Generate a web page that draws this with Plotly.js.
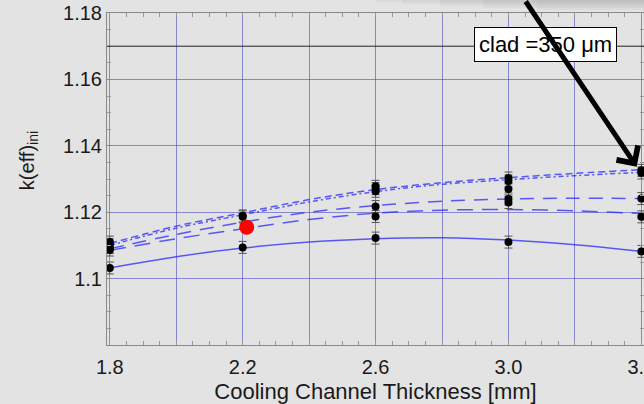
<!DOCTYPE html>
<html>
<head>
<meta charset="utf-8">
<script src="https://cdn.plot.ly/plotly-3.0.1.min.js"></script>
<style>
html,body{margin:0;padding:0;overflow:hidden;background:#e3e3e3;}
#chart{width:644px;height:404px;}
</style>
</head>
<body>
<div id="chart"></div>
<script>
// Measured points (cooling channel thickness [mm], k(eff) ini)
const pointX = [1.8, 1.8, 1.8, 1.8, 1.8,
                2.2, 2.2, 2.2,
                2.6, 2.6, 2.6, 2.6, 2.6, 2.6,
                3.0, 3.0, 3.0, 3.0, 3.0, 3.0,
                3.4, 3.4, 3.4, 3.4, 3.4];
const pointY = [1.1110, 1.1102, 1.1094, 1.1086, 1.1032,
                1.1189, 1.1186, 1.1094,
                1.1278, 1.1271, 1.1263, 1.1217, 1.1187, 1.1122,
                1.1303, 1.1294, 1.1270, 1.1240, 1.1229, 1.1110,
                1.1326, 1.1318, 1.1241, 1.1186, 1.1082];
const pointErr = 0.0018;

// Highlighted point
const redX = [2.212];
const redY = [1.1155];

// Fitted curves
const curveX = [1.8, 2.0, 2.2, 2.4, 2.6, 2.8, 3.0, 3.2, 3.4];
const curveSolid = [1.1032, 1.1066, 1.1092, 1.1110, 1.1120, 1.1123, 1.1116, 1.1102, 1.1082];
const curveLongB = [1.1085, 1.1120, 1.1150, 1.1178, 1.1197, 1.1206, 1.1208, 1.1204, 1.1196];
const curveLongA = [1.1090, 1.1133, 1.1170, 1.1200, 1.1220, 1.1233, 1.1240, 1.1242, 1.1241];
const curveShort1 = [1.1106, 1.1158, 1.1198, 1.1238, 1.1268, 1.1289, 1.1304, 1.1317, 1.1328];
const curveShort2 = [1.1100, 1.1152, 1.1192, 1.1231, 1.1262, 1.1284, 1.1298, 1.1310, 1.1320];

// Axis ticks
const xLabelStep = 0.4;
const xGridStep = 0.2;
const xSmallTick = 0.05;
const yTickVals = [1.1, 1.12, 1.14, 1.16, 1.18];
const yTickText = ['1.1', '1.12', '1.14', '1.16', '1.18'];

const xRange = [1.7915, 3.408];
const yRange = [1.08, 1.18];

const blue = 'rgba(40,40,255,0.75)';
const grid = 'rgba(60,60,190,0.55)';
function curve(y, dash, w) {
  return {x: curveX, y: y, mode: 'lines', type: 'scatter', hoverinfo: 'skip',
    line: {color: blue, width: w, dash: dash, shape: 'spline', smoothing: 1}};
}

const traces = [
  curve(curveSolid, 'solid', 1.5),
  curve(curveLongB, '16px,9px', 1.5),
  curve(curveLongA, '14px,9px', 1.5),
  curve(curveShort1, '7px,4px', 1.5),
  curve(curveShort2, '5px,3px,2px,3px', 1.5),
  {x: pointX, y: pointY, mode: 'markers', type: 'scatter',
   marker: {color: '#000', size: 8},
   error_y: {type: 'constant', value: pointErr, color: '#555', thickness: 1, width: 4}},
  {x: redX, y: redY, mode: 'markers', type: 'scatter', xaxis: 'x2',
   marker: {color: '#ff0000', size: 15}}
];

const shade = [];
const shadeSteps = [[0.50, 2], [0.55, 4], [0.62, 6], [0.70, 8], [0.80, 10]];
shadeSteps.forEach(function (s) {
  shade.push({type: 'rect', xref: 'paper', yref: 'paper', layer: 'below',
    x0: s[0], x1: 1.05, y0: 1.0392 - s[1] / 332, y1: 1.05,
    fillcolor: 'rgba(120,120,120,0.07)', line: {width: 0}});
});

const layout = {
  width: 644, height: 404,
  margin: {l: 107, r: 0, t: 13, b: 59},
  paper_bgcolor: '#e3e3e3', plot_bgcolor: '#e3e3e3',
  showlegend: false,
  font: {family: 'Liberation Sans, Arial, sans-serif', color: '#1a1a1a', size: 20},
  xaxis: {
    range: xRange, tick0: 1.8, dtick: xLabelStep, tickformat: '.1f',
    ticks: 'inside', ticklen: 5, tickcolor: '#888', showline: true, linecolor: '#888',
    mirror: 'ticks', showgrid: true, gridcolor: grid, gridwidth: 1,
    zeroline: false, tickfont: {size: 20}, ticklabeloverflow: 'allow', ticklabelstandoff: 4,
    minor: {tick0: 1.8, dtick: xGridStep, ticks: 'inside', ticklen: 5, tickcolor: '#888',
            showgrid: true, gridcolor: grid, gridwidth: 1},
    title: {text: 'Cooling Channel Thickness [mm]', font: {size: 22}, standoff: 9}
  },
  xaxis2: {
    overlaying: 'x', range: xRange, tick0: 1.8, dtick: xSmallTick, side: 'bottom',
    ticks: 'inside', ticklen: 4, tickcolor: '#999', showline: false, mirror: 'ticks',
    showgrid: false, zeroline: false, showticklabels: false
  },
  yaxis: {
    range: yRange, tickmode: 'array', tickvals: yTickVals, ticktext: yTickText,
    ticks: 'inside', ticklen: 5, tickcolor: '#888', showline: true, linecolor: '#888',
    mirror: 'ticks', showgrid: true, gridcolor: grid, gridwidth: 1,
    zeroline: false, tickfont: {size: 20},
    minor: {dtick: 0.005, tick0: 1.08, ticks: 'inside', ticklen: 4, tickcolor: '#999', showgrid: false}
  },
  shapes: shade.concat([
    {type: 'line', xref: 'paper', yref: 'y', x0: 0, x1: 1, y0: 1.17, y1: 1.17,
     line: {color: '#222', width: 1}}
  ]),
  annotations: [
    {xref: 'paper', yref: 'paper', x: -0.147, y: 0.554, xanchor: 'center', yanchor: 'middle',
     text: 'k(eff)<sub>ini</sub>', textangle: -90, showarrow: false, font: {size: 20}},
    {xref: 'paper', yref: 'paper', x: 0.8175, y: 0.9066, xanchor: 'center', yanchor: 'middle',
     text: 'clad =350 μm', showarrow: false, font: {size: 22, color: '#000'},
     bgcolor: '#ffffff', bordercolor: '#000', borderwidth: 1, borderpad: 4},
    {xref: 'x', yref: 'y', x: 3.386, y: 1.1337, text: '', showarrow: true,
     arrowhead: 4, arrowsize: 1, arrowwidth: 5, arrowcolor: '#000',
     ax: -112, ay: -188, standoff: 0}
  ]
};

Plotly.newPlot('chart', traces, layout, {staticPlot: true, displayModeBar: false});
</script>
</body>
</html>
